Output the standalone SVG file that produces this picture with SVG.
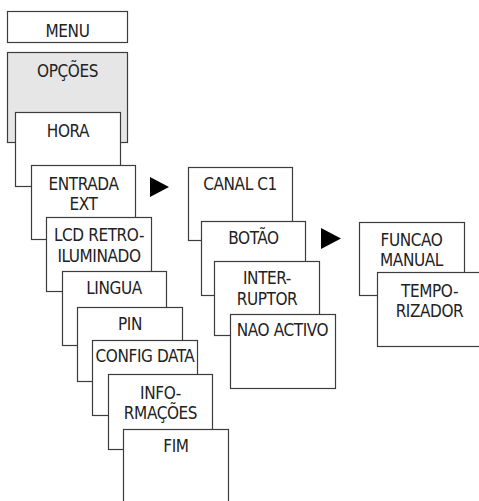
<svg xmlns="http://www.w3.org/2000/svg" width="479" height="501" viewBox="0 0 479 501">
<style>
rect{fill:#fff;stroke:#3c3c3c;stroke-width:1.2}
#opcoes rect{fill:#e6e6e6}
text{font-family:"DejaVu Sans","Liberation Sans",sans-serif;font-stretch:condensed;font-size:17px;letter-spacing:-0.4px;fill:#222;text-anchor:middle}
.arrow{fill:#000}
</style>
<rect x="0" y="0" width="479" height="501" style="fill:#fff;stroke:none"/>
<g id="menu"><rect x="7.5" y="11.5" width="120" height="31"/><text x="67.5" y="36.5">MENU</text></g>
<g id="opcoes"><rect x="7.5" y="52.5" width="120" height="90"/><text x="67.5" y="77">OPÇÕES</text></g>
<g id="hora"><rect x="15.5" y="112.5" width="105" height="74"/><text x="68" y="136.5">HORA</text></g>
<g id="entrada"><rect x="31.5" y="165.5" width="104" height="74"/><text x="83.5" y="189.5">ENTRADA</text><text x="83.5" y="209.5">EXT</text></g>
<g id="lcd"><rect x="46.5" y="217.5" width="105" height="74"/><text x="99" y="240.5">LCD RETRO-</text><text x="99" y="261.5">ILUMINADO</text></g>
<g id="lingua"><rect x="62.5" y="271.5" width="104" height="74"/><text x="114" y="294">LINGUA</text></g>
<g id="pin"><rect x="77.5" y="307.5" width="105" height="74"/><text x="130" y="329.5">PIN</text></g>
<g id="config"><rect x="92.5" y="340.5" width="105" height="75"/><text x="145" y="361.5">CONFIG DATA</text></g>
<g id="info"><rect x="108.5" y="374.5" width="104" height="75"/><text x="160.5" y="398.5">INFO-</text><text x="160.5" y="419">RMAÇÕES</text></g>
<g id="fim"><rect x="123.5" y="429.5" width="105" height="75"/><text x="176" y="452">FIM</text></g>
<g id="canal"><rect x="188.5" y="167.5" width="104" height="73"/><text x="240" y="189.5">CANAL C1</text></g>
<g id="botao"><rect x="201.5" y="221.5" width="104" height="74"/><text x="253.5" y="243.5">BOTÃO</text></g>
<g id="interruptor"><rect x="214.5" y="261.5" width="105" height="74"/><text x="267" y="283.5">INTER-</text><text x="267" y="305">RUPTOR</text></g>
<g id="naoactivo"><rect x="230.5" y="314.5" width="105" height="74"/><text x="282.5" y="336">NAO ACTIVO</text></g>
<g id="funcao"><rect x="359.5" y="222.5" width="105" height="73"/><text x="411.5" y="246">FUNCAO</text><text x="411.5" y="265.5">MANUAL</text></g>
<g id="temporizador"><rect x="377.5" y="272.5" width="105" height="74"/><text x="429.5" y="297">TEMPO-</text><text x="429.5" y="317">RIZADOR</text></g>
<g id="connectors">
<polygon class="arrow" points="150,177 169,187 150,197"/>
<polygon class="arrow" points="321,228 341,238.5 321,249"/>
</g>
</svg>
